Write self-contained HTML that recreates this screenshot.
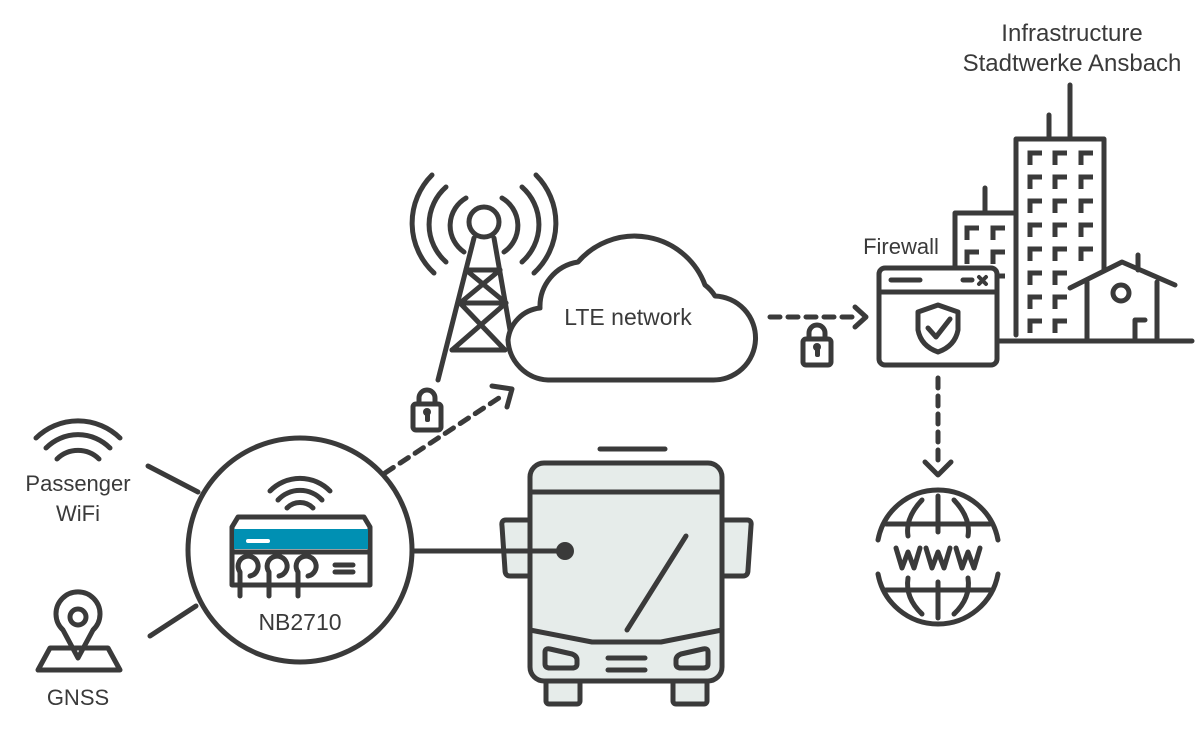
<!DOCTYPE html>
<html><head><meta charset="utf-8"><style>
html,body{margin:0;padding:0;background:#fff;}
svg{display:block;}
text{font-family:"Liberation Sans",sans-serif;fill:#3a3a3a;}
</style></head><body>
<svg width="1200" height="746" viewBox="0 0 1200 746" xmlns="http://www.w3.org/2000/svg">
<g fill="none" stroke="#3a3a3a" stroke-width="5" stroke-linecap="round" stroke-linejoin="round">
<!-- left wifi -->
<path d="M36 438 A60 60 0 0 1 120 438"/>
<path d="M46 448 A45 45 0 0 1 110 448"/>
<path d="M57 459 A30 30 0 0 1 99 459"/>
<!-- GNSS pin -->
<path d="M78 658 L63 630 A22 22 0 1 1 93 630 Z"/>
<circle cx="78" cy="617" r="8"/>
<path d="M50 648 L38 670 L120 670 L108 648 Z"/>
<!-- connector lines -->
<line x1="148" y1="466" x2="198" y2="492"/>
<line x1="150" y1="636" x2="196" y2="606"/>
<circle cx="300" cy="550" r="112"/>
<!-- router wifi -->
<path d="M270 491 A42 42 0 0 1 330 491"/>
<path d="M278 500 A30 30 0 0 1 322 500"/>
<path d="M287 508 A18 18 0 0 1 313 508"/>
<!-- router -->
<path d="M232 527 L238 517 L364 517 L370 527 L370 585 L232 585 Z"/>
</g>
<rect x="234" y="529" width="134" height="20" fill="#0090b3"/>
<line x1="248" y1="541" x2="268" y2="541" stroke="#fff" stroke-width="4" stroke-linecap="round"/>
<g fill="none" stroke="#3a3a3a" stroke-width="5" stroke-linecap="round" stroke-linejoin="round">
<line x1="232" y1="552" x2="370" y2="552"/>
<path d="M240 596 L240 572 A10 10 0 1 1 250 576"/>
<path d="M269 596 L269 572 A10 10 0 1 1 279 576"/>
<path d="M298 596 L298 572 A10 10 0 1 1 308 576"/>
<line x1="335" y1="565" x2="353" y2="565"/>
<line x1="335" y1="572" x2="353" y2="572"/>
<!-- dashed arrow to cloud -->
<line x1="385" y1="473" x2="505" y2="394" stroke-dasharray="10 8"/>
<path d="M492 386 L512 389 L507 407"/>
<!-- lock 1 -->
<rect x="413" y="404" width="28" height="26" rx="3"/>
<path d="M419 404 L419 398 A8 8 0 0 1 435 398 L435 404"/>
<!-- tower -->
<circle cx="484" cy="222" r="15"/>
<path d="M474 238 L438 380 M494 238 L510 330"/>
<line x1="466" y1="270" x2="500" y2="270"/>
<line x1="460" y1="303" x2="506" y2="303"/>
<line x1="452" y1="350" x2="505" y2="350"/>
<path d="M466 270 L506 303 M500 270 L460 303 M460 303 L505 350 M506 303 L452 350"/>
<path d="M466 198 A32 32 0 0 0 464 252"/><path d="M502 198 A32 32 0 0 1 504 252"/>
<path d="M446 187 A50 50 0 0 0 446 262"/><path d="M522 187 A50 50 0 0 1 522 262"/>
<path d="M432 175 A68 68 0 0 0 434 273"/><path d="M536 175 A68 68 0 0 1 534 273"/>
<!-- cloud -->
<path d="M548 380 L712 380 A42 42 0 0 0 715 296 A40 40 0 0 0 705 285 A75 75 0 0 0 578 262 A45 45 0 0 0 540 308 A36 36 0 0 0 508 340 A42 42 0 0 0 548 380 Z" fill="#fff"/>
<!-- dashed arrow to firewall -->
<line x1="770" y1="317" x2="860" y2="317" stroke-dasharray="10 8"/>
<path d="M855 307 L866 317 L855 327"/>
<rect x="803" y="339" width="28" height="26" rx="3"/>
<path d="M809 339 L809 333 A8 8 0 0 1 825 333 L825 339"/>
<!-- buildings -->
<line x1="998" y1="341" x2="1192" y2="341"/>
<path d="M955 268 L955 213 L1014 213"/>
<line x1="985" y1="213" x2="985" y2="188"/>
<path d="M1016 335 L1016 139 L1104 139 L1104 270"/>
<line x1="1049" y1="139" x2="1049" y2="115"/>
<line x1="1070" y1="139" x2="1070" y2="85"/>
<path d="M1070 288 L1122 262 L1175 285"/>
<path d="M1087 341 L1087 282 M1157 341 L1157 282"/>
<line x1="1138" y1="270" x2="1138" y2="255"/>
<circle cx="1121" cy="293" r="8"/>
<path d="M1135 339 L1135 320 L1145 320"/>
</g>
<g fill="none" stroke="#3a3a3a" stroke-width="5">
<g transform="translate(967,228)"><path d="M0 12V0H12M26 12V0H38M0 36V24H12M26 36V24H38M0 60V48H12M26 60V48H38"/></g>
<g transform="translate(1030,153)">
<path d="M0 12V0H12M25 12V0H37M51 12V0H63"/>
<path d="M0 36V24H12M25 36V24H37M51 36V24H63"/>
<path d="M0 60V48H12M25 60V48H37M51 60V48H63"/>
<path d="M0 84V72H12M25 84V72H37M51 84V72H63"/>
<path d="M0 108V96H12M25 108V96H37M51 108V96H63"/>
<path d="M0 132V120H12M25 132V120H37"/>
<path d="M0 156V144H12M25 156V144H37"/>
<path d="M0 180V168H12M25 180V168H37"/>
</g>
</g>
<g fill="none" stroke="#3a3a3a" stroke-width="5" stroke-linecap="round" stroke-linejoin="round">
<!-- firewall window -->
<rect x="879" y="268" width="118" height="97" rx="6" fill="#fff"/>
<line x1="879" y1="292" x2="997" y2="292"/>
<line x1="891" y1="280" x2="920" y2="280"/>
<line x1="963" y1="280" x2="972" y2="280"/>
<path d="M979 277 L986 284 M986 277 L979 284" stroke-width="4"/>
<path d="M938 305 L958 312 L958 330 Q955 346 938 352 Q921 346 918 330 L918 312 Z"/>
<path d="M928 328 L936 337 L950 319"/>
<!-- down arrow -->
<line x1="938" y1="378" x2="938" y2="462" stroke-dasharray="10 8"/>
<path d="M925 462 L938 475 L951 462"/>
<!-- globe -->
<path d="M878 540 A61 61 0 0 1 998 540"/>
<path d="M878 574 A61 61 0 0 0 998 574"/>
<line x1="938" y1="496" x2="938" y2="532"/><line x1="938" y1="582" x2="938" y2="618"/>
<line x1="886" y1="524" x2="990" y2="524"/><line x1="886" y1="590" x2="990" y2="590"/>
<path d="M922 500 Q905 518 908 536 M954 500 Q971 518 968 536"/>
<path d="M908 578 Q905 598 922 614 M968 578 Q971 598 954 614"/>
<path d="M896 548 L902 568 L908 552 L914 568 L920 548 M926 548 L932 568 L938 552 L944 568 L950 548 M956 548 L962 568 L968 552 L974 568 L980 548"/>
<!-- bus -->
<line x1="600" y1="449" x2="665" y2="449"/>
<rect x="546" y="676" width="34" height="28" rx="3" fill="#e6ecea"/>
<rect x="673" y="676" width="34" height="28" rx="3" fill="#e6ecea"/>
<path d="M531 520 L506 520 Q501 520 502 526 L505 570 Q505 576 510 576 L531 576 Z" fill="#e6ecea"/>
<path d="M722 520 L747 520 Q752 520 751 526 L748 570 Q748 576 743 576 L722 576 Z" fill="#e6ecea"/>
<rect x="530" y="463" width="192" height="218" rx="14" fill="#e6ecea"/>
<line x1="530" y1="492" x2="722" y2="492"/>
<path d="M530 630 L592 642 L661 642 L722 630"/>
<line x1="686" y1="536" x2="627" y2="630"/>
<path d="M545 652 Q545 648 550 649 L572 654 Q577 656 577 660 L577 664 Q577 668 572 668 L550 668 Q545 668 545 664 Z"/>
<path d="M708 652 Q708 648 703 649 L681 654 Q676 656 676 660 L676 664 Q676 668 681 668 L703 668 Q708 668 708 664 Z"/>
<line x1="608" y1="658" x2="645" y2="658"/><line x1="608" y1="670" x2="645" y2="670"/>
<line x1="412" y1="551" x2="565" y2="551"/>
</g>
<circle cx="565" cy="551" r="9" fill="#3a3a3a"/>
<g fill="#3a3a3a">
<rect x="425" y="412" width="5" height="10" rx="2"/><circle cx="427" cy="412" r="4"/>
<rect x="815" y="347" width="5" height="10" rx="2"/><circle cx="817" cy="347" r="4"/>
</g>
<text x="78" y="491" font-size="22" text-anchor="middle">Passenger</text>
<text x="78" y="521" font-size="22" text-anchor="middle">WiFi</text>
<text x="78" y="705" font-size="22" text-anchor="middle">GNSS</text>
<text x="300" y="630" font-size="23" text-anchor="middle">NB2710</text>
<text x="628" y="325" font-size="23" text-anchor="middle">LTE network</text>
<text x="901" y="254" font-size="22" text-anchor="middle">Firewall</text>
<text x="1072" y="41" font-size="24" text-anchor="middle">Infrastructure</text>
<text x="1072" y="71" font-size="24" text-anchor="middle">Stadtwerke Ansbach</text>
</svg>
</body></html>
